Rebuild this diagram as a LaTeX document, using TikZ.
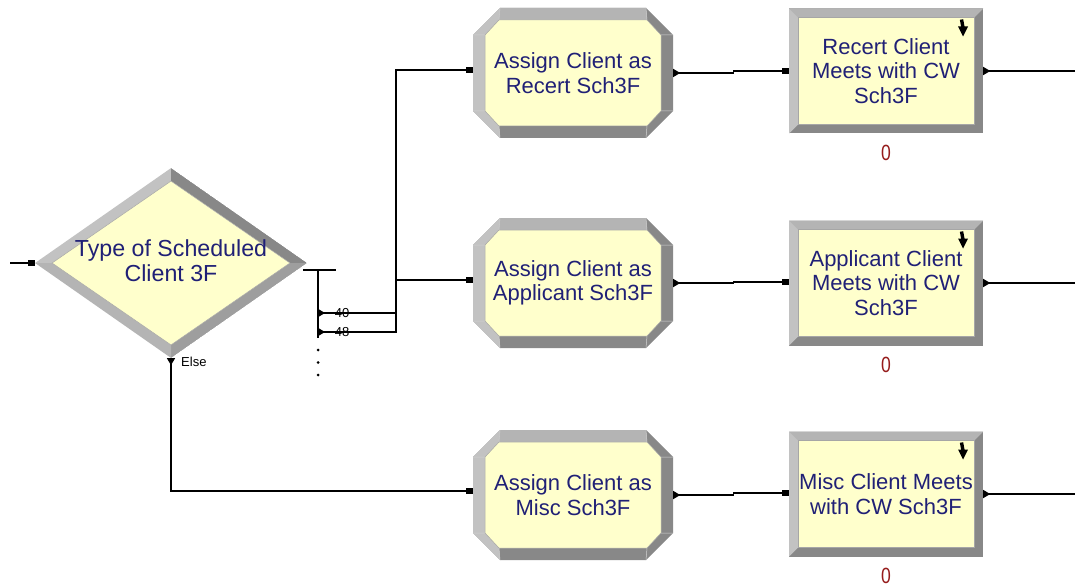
\documentclass[tikz,border=0pt]{standalone}
\usepackage{fontspec}
\setmainfont{Liberation Sans}
\usetikzlibrary{calc,shapes.geometric,arrows.meta}

\definecolor{boxfill}{RGB}{255,255,204}
\definecolor{bevlight}{RGB}{194,194,194}
\definecolor{bevtop}{RGB}{180,180,180}
\definecolor{bevdark}{RGB}{136,136,136}
\definecolor{bevmid}{RGB}{158,158,158}
\definecolor{labelblue}{RGB}{32,32,118}
\definecolor{countred}{RGB}{150,28,28}

\tikzset{
  boxtext/.style={font=\fontsize{22}{24.5}\selectfont, text=labelblue, align=center},
  % rectangular process module with a bevelled frame
  procbox/.style={
    boxtext, rectangle, inner sep=0pt, fill=white,
    minimum width=194pt, minimum height=125pt,
    path picture={
      \coordinate (bNW) at (path picture bounding box.north west);
      \coordinate (bNE) at (path picture bounding box.north east);
      \coordinate (bSE) at (path picture bounding box.south east);
      \coordinate (bSW) at (path picture bounding box.south west);
      \fill[bevdark] (bNW) rectangle (bSE);
      \fill[bevlight] (bNW) -- (bNE) -- ($(bNE)+(-9,-9)$) -- ($(bNW)+(9,-9)$)
        -- ($(bSW)+(9,9)$) -- (bSW) -- cycle;
      \fill[bevtop] (bNW) -- (bNE) -- ($(bNE)+(-9,-9)$) -- ($(bNW)+(9,-9)$) -- cycle;
      \fill[boxfill] ($(bNW)+(9,-9)$) rectangle ($(bSE)+(-9,9)$);
      \draw[gray!70, line width=0.5pt] ($(bNW)+(9,-9)$) rectangle ($(bSE)+(-9,9)$);
      % resource icon in the corner
      \draw[black, line width=3.4pt] ($(bNE)+(-21.5,-11)$) -- ($(bNE)+(-20,-19)$);
      \fill[black] ($(bNE)+(-25,-18)$) -- ($(bNE)+(-15,-18)$) -- ($(bNE)+(-20,-28)$) -- cycle;
    }
  },
  % octagonal assign module with a bevelled frame
  assignbox/.style={
    boxtext, rectangle, inner sep=0pt, fill=white,
    minimum width=200pt, minimum height=130pt,
    path picture={
      \coordinate (bNW) at (path picture bounding box.north west);
      \coordinate (bNE) at (path picture bounding box.north east);
      \coordinate (bSE) at (path picture bounding box.south east);
      \coordinate (bSW) at (path picture bounding box.south west);
      \coordinate (o1) at ($(bNW)+(27,0)$);  \coordinate (o2) at ($(bNE)+(-27,0)$);
      \coordinate (o3) at ($(bNE)+(0,-27)$); \coordinate (o4) at ($(bSE)+(0,27)$);
      \coordinate (o5) at ($(bSE)+(-27,0)$); \coordinate (o6) at ($(bSW)+(27,0)$);
      \coordinate (o7) at ($(bSW)+(0,27)$);  \coordinate (o8) at ($(bNW)+(0,-27)$);
      \coordinate (i1) at ($(bNW)+(26,-12)$);  \coordinate (i2) at ($(bNE)+(-26,-12)$);
      \coordinate (i3) at ($(bNE)+(-12,-27)$); \coordinate (i4) at ($(bSE)+(-12,27)$);
      \coordinate (i5) at ($(bSE)+(-26,12)$);  \coordinate (i6) at ($(bSW)+(26,12)$);
      \coordinate (i7) at ($(bSW)+(12,27)$);   \coordinate (i8) at ($(bNW)+(12,-27)$);
      \fill[bevdark] (o1) -- (o2) -- (o3) -- (o4) -- (o5) -- (o6) -- (o7) -- (o8) -- cycle;
      \fill[bevlight] (o6) -- (o7) -- (o8) -- (o1) -- (i1) -- (i8) -- (i7) -- (i6) -- cycle;
      \fill[bevtop] (o1) -- (o2) -- (i2) -- (i1) -- cycle;
      \fill[boxfill] (i1) -- (i2) -- (i3) -- (i4) -- (i5) -- (i6) -- (i7) -- (i8) -- cycle;
      \draw[gray!35, line width=0.5pt] (o1) -- (i1) (o2) -- (i2) (o3) -- (i3) (o4) -- (i4)
        (o5) -- (i5) (o6) -- (i6) (o7) -- (i7) (o8) -- (i8);
      \draw[gray!70, line width=0.5pt] (i1) -- (i2) -- (i3) -- (i4) -- (i5) -- (i6) -- (i7) -- (i8) -- cycle;
    }
  },
  % diamond decide module with a bevelled frame
  decidebox/.style={
    diamond, inner sep=0pt, fill=white,
    minimum width=272pt, minimum height=190pt,
    path picture={
      \coordinate (dN) at (path picture bounding box.north);
      \coordinate (dE) at (path picture bounding box.east);
      \coordinate (dS) at (path picture bounding box.south);
      \coordinate (dW) at (path picture bounding box.west);
      \coordinate (iN) at ($(dN)+(0,-13)$);
      \coordinate (iE) at ($(dE)+(-17,0)$);
      \coordinate (iS) at ($(dS)+(0,13)$);
      \coordinate (iW) at ($(dW)+(17,0)$);
      \fill[bevlight] (dW) -- (dN) -- (iN) -- (iW) -- cycle;
      \fill[bevdark] (dN) -- (dE) -- (iE) -- (iN) -- cycle;
      \fill[bevmid] (dE) -- (dS) -- (iS) -- (iE) -- cycle;
      \fill[bevtop] (dS) -- (dW) -- (iW) -- (iS) -- cycle;
      \fill[boxfill] (iN) -- (iE) -- (iS) -- (iW) -- cycle;
      \draw[gray!70, line width=0.5pt] (iN) -- (iE) -- (iS) -- (iW) -- cycle;
    }
  },
  counter/.style={font=\fontsize{22}{22}\selectfont, text=countred, inner sep=0pt},
  branchlabel/.style={font=\fontsize{13}{13}\selectfont, inner sep=0pt},
  link/.style={line width=1.25pt, black},
  exittip/.style={{Triangle[reversed,length=7pt,width=8pt]}-},
  entrytip/.style={-{Square[length=6.5pt,width=6.5pt]}},
  throughtip/.style={{Triangle[reversed,length=7pt,width=8pt]}-{Square[length=6.5pt,width=6.5pt]}},
}

\begin{document}
\begin{tikzpicture}[x=1pt,y=1pt]
\fill[white] (0,0) rectangle (1075,-588);
\useasboundingbox (0,0) rectangle (1075,-588);

% decide module
\node[decidebox] (dec) at (171,-263) {};
\node[boxtext, font=\fontsize{23.2}{25}\selectfont, inner sep=0pt] (dectxt) at (171,-261)
  {Type of Scheduled\\Client 3F};

% assign modules
\node[assignbox] (a1) at (573,-73)  {Assign Client as\\Recert Sch3F};
\node[assignbox] (a2) at (573,-283) {Assign Client as\\Applicant Sch3F};
\node[assignbox] (a3) at (573,-495) {Assign Client as\\Misc Sch3F};

% process modules
\node[procbox] (p1) at (886,-71)  {Recert Client\\Meets with CW\\Sch3F};
\node[procbox] (p2) at (886,-283) {Applicant Client\\Meets with CW\\Sch3F};
\node[procbox] (p3) at (886,-494) {Misc Client Meets\\with CW Sch3F};

% queue counters
\node[counter] (c1) at ($(p1.south)+(0,-19)$) {\scalebox{0.8}[1]{0}};
\node[counter] (c2) at ($(p2.south)+(0,-19)$) {\scalebox{0.8}[1]{0}};
\node[counter] (c3) at ($(p3.south)+(0,-19)$) {\scalebox{0.8}[1]{0}};

% free ends and junction points
\coordinate (inL) at (10,-263);
\coordinate (decOut) at ($(dec.east)+(-4,-7)$);
\coordinate (barR) at (336,-270);
\coordinate (barT) at (318,-270);
\coordinate (barB) at (318,-338);
\coordinate (br1) at (318,-313);
\coordinate (br2) at (318,-332);
\coordinate (jn1) at (396,-313);
\coordinate (jn2) at (396,-332);
\coordinate (out1) at (1075,-71);
\coordinate (out2) at (1075,-283);
\coordinate (out3) at (1075,-494);

% incoming connector
\draw[link, entrytip] (inL) -- (dec.west);

% decide branch bar
\draw[link] (decOut) -- (barR);
\draw[link] (barT) -- (barB);
\draw[link, exittip] (br1) -- (jn1);
\draw[link, throughtip] (br2) -- (jn2) |- ([yshift=3pt]a1.west);
\draw[link, entrytip] (jn2) |- ([yshift=3pt]a2.west);
\node[branchlabel] (lab40) at (342,-313) {40};
\node[branchlabel] (lab48) at (342,-332.5) {48};
\foreach \yy in {350,362.5,375} \fill (318,-\yy) circle (1.5);

% else branch
\draw[link, throughtip] (dec.south) |- ([yshift=4pt]a3.west);
\node[branchlabel, anchor=west] (labelse) at (181,-362) {Else};

% assign to process
\draw[link, throughtip] (a1.east) -- ++(60,0) |- (p1.west);
\draw[link, throughtip] (a2.east) -- ++(60,0) |- ([yshift=1pt]p2.west);
\draw[link, throughtip] (a3.east) -- ++(60,0) |- ([yshift=1pt]p3.west);

% process outputs
\draw[link, exittip] (p1.east) -- (out1);
\draw[link, exittip] (p2.east) -- (out2);
\draw[link, exittip] (p3.east) -- (out3);
\end{tikzpicture}
\end{document}
